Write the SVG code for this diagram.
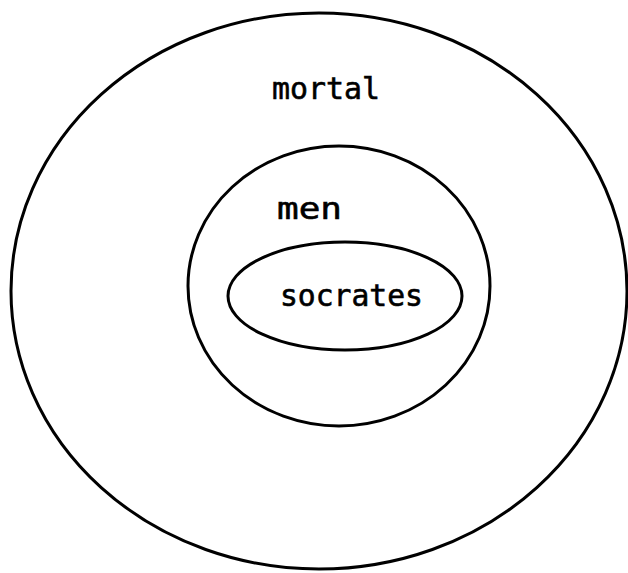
<svg xmlns="http://www.w3.org/2000/svg" width="628" height="573" viewBox="0 0 628 573">
<style>
.set{fill:none;stroke:#000;stroke-width:3}
.lbl{font-family:"DejaVu Sans Mono","Liberation Mono",monospace;font-size:30px;fill:#000;stroke:#000;stroke-width:0.6}
</style>
<rect width="628" height="573" fill="#fff"/>
<g id="mortal">
<ellipse class="set" cx="319" cy="291" rx="308" ry="278"/>
<text class="lbl" x="272" y="99" textLength="108" lengthAdjust="spacingAndGlyphs">mortal</text>
</g>
<g id="men">
<ellipse class="set" cx="339" cy="286" rx="151" ry="140"/>
<text class="lbl" x="277" y="219" textLength="65" lengthAdjust="spacingAndGlyphs">men</text>
</g>
<g id="socrates">
<ellipse class="set" cx="345" cy="296" rx="117" ry="54"/>
<text class="lbl" x="280" y="306" textLength="143" lengthAdjust="spacingAndGlyphs">socrates</text>
</g>
<g id="connectors"/>
</svg>
